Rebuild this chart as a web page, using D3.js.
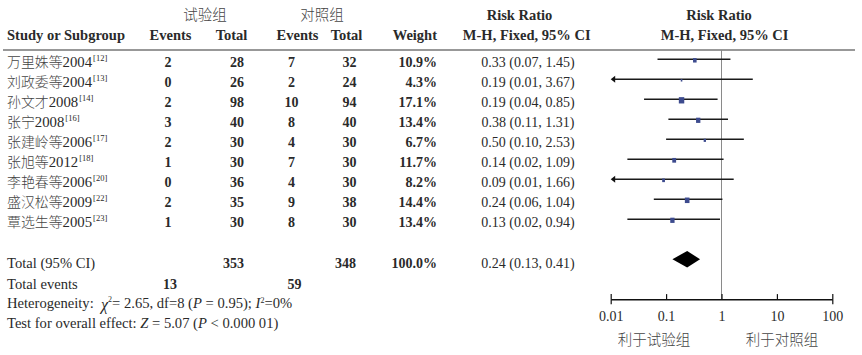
<!DOCTYPE html>
<html><head><meta charset="utf-8">
<script src="https://cdn.jsdelivr.net/npm/d3@7"></script>
<style>
html,body{margin:0;padding:0;background:#fff;}
svg{display:block;}
text{font-family:"Liberation Serif","Noto Sans CJK SC",serif;fill:#2a2a2a;white-space:pre;}
.cjk{font-family:"Noto Sans CJK SC",sans-serif;font-weight:300;fill:#444;}
</style></head>
<body>
<script>
// ---- data ----
const studies   = ["万里姝等","刘政委等","孙文才","张宁","张建岭等","张旭等","李艳春等","盛汉松等","覃选生等"];
const years     = ["2004","2004","2008","2008","2006","2012","2006","2009","2005"];
const refs      = ["[12]","[13]","[14]","[16]","[17]","[18]","[20]","[22]","[23]"];
const expEvents = [2,0,2,3,2,1,0,2,1];
const expTotal  = [28,26,98,40,30,30,36,35,30];
const ctlEvents = [7,2,10,8,4,7,4,9,8];
const ctlTotal  = [32,24,94,40,30,30,30,38,30];
const weights   = [10.9,4.3,17.1,13.4,6.7,11.7,8.2,14.4,13.4];
const rr        = [0.33,0.19,0.19,0.38,0.50,0.14,0.09,0.24,0.13];
const ciLow     = [0.07,0.01,0.04,0.11,0.10,0.02,0.01,0.06,0.02];
const ciHigh    = [1.45,3.67,0.85,1.31,2.53,1.09,1.66,1.04,0.94];
const totalExp = 353, totalCtl = 348, totalWeight = 100.0;
const totalRR = 0.24, totalLow = 0.13, totalHigh = 0.41;
const totalExpEvents = 13, totalCtlEvents = 59;
const axisTicks = [0.01,0.1,1,10,100];
const axisTickLabels = ["0.01","0.1","1","10","100"];
const favourLabels = ["利于试验组","利于对照组"];

// ---- layout ----
const W = 862, H = 355;
const svg = d3.select("body").append("svg").attr("width",W).attr("height",H);
const x = d3.scaleLog().domain([0.01,100]).range([610.7,832.3]);
const y = d3.scaleLinear().domain([0,1]).range([59.3,79.3]);
const f2 = d3.format(".2f"), f1 = d3.format(".1f");
const FS = 14, HFS = 14.5, LFS = 14.6;

function txt(xp, yp, s, opt={}) {
  const t = svg.append("text").attr("x",xp).attr("y",yp).text(s)
    .attr("font-size", opt.size||FS)
    .attr("text-anchor", opt.anchor||"start")
    .attr("font-weight", opt.bold?"bold":"normal");
  if (opt.cls) t.attr("class",opt.cls);
  return t;
}

// headers
txt(205,20,"试验组",{anchor:"middle",size:14.5,cls:"cjk"});
txt(322,20,"对照组",{anchor:"middle",size:14.5,cls:"cjk"});
txt(519.5,20,"Risk Ratio",{anchor:"middle",bold:true,size:HFS});
txt(719,20,"Risk Ratio",{anchor:"middle",bold:true,size:HFS});
txt(7,39.5,"Study or Subgroup",{bold:true,size:HFS});
txt(170.5,39.5,"Events",{anchor:"middle",bold:true,size:HFS});
txt(231.5,39.5,"Total",{anchor:"middle",bold:true,size:HFS});
txt(297.5,39.5,"Events",{anchor:"middle",bold:true,size:HFS});
txt(346.5,39.5,"Total",{anchor:"middle",bold:true,size:HFS});
txt(437,39.5,"Weight",{anchor:"end",bold:true,size:HFS});
txt(526.7,39.5,"M-H, Fixed, 95% CI",{anchor:"middle",bold:true,size:HFS});
txt(724.6,39.5,"M-H, Fixed, 95% CI",{anchor:"middle",bold:true,size:HFS});

svg.append("line").attr("x1",3).attr("x2",855).attr("y1",50).attr("y2",50)
  .attr("stroke","#333").attr("stroke-width",1.2);

// reference line
svg.append("line").attr("x1",x(1)).attr("x2",x(1)).attr("y1",50).attr("y2",299.3)
  .attr("stroke","#8a8a8a").attr("stroke-width",1);

// rows
const CJKW = 13.9;
studies.forEach((s,i)=>{
  const yb = y(i)+7.2;
  const n = s.length;
  txt(7,yb,s,{cls:"cjk",size:14}).attr("textLength",CJKW*n).attr("lengthAdjust","spacingAndGlyphs");
  const x1 = 7 + CJKW*n;
  txt(x1,yb,years[i],{size:14.5}).attr("textLength",29.5).attr("lengthAdjust","spacingAndGlyphs");
  txt(x1+30.5,yb-5.5,refs[i],{size:8.5});
  txt(168,yb,expEvents[i],{anchor:"middle",bold:true});
  txt(244,yb,expTotal[i],{anchor:"end",bold:true});
  txt(291.5,yb,ctlEvents[i],{anchor:"middle",bold:true});
  txt(356.5,yb,ctlTotal[i],{anchor:"end",bold:true});
  txt(437,yb,f1(weights[i])+"%",{anchor:"end",bold:true});
  txt(528,yb,`${f2(rr[i])} (${f2(ciLow[i])}, ${f2(ciHigh[i])})`,{anchor:"middle"});
});

// forest plot CIs
const g = svg.append("g");
g.selectAll("line.ci").data(studies).join("line").attr("class","ci")
  .attr("x1",(d,i)=>x(ciLow[i])+(ciLow[i]<=0.01?2:0)).attr("x2",(d,i)=>x(ciHigh[i]))
  .attr("y1",(d,i)=>y(i)).attr("y2",(d,i)=>y(i))
  .attr("stroke","#1a1a1a").attr("stroke-width",1.4);
// arrows for truncated CIs
g.selectAll("path.arrow").data(studies.map((d,i)=>i).filter(i=>ciLow[i]<=0.01)).join("path")
  .attr("class","arrow")
  .attr("d",i=>{const x0=x(0.01), y0=y(i); return `M${x0},${y0}L${x0+4.5},${y0-3.5}L${x0+4.5},${y0+3.5}Z`;})
  .attr("fill","#111");
// squares
g.selectAll("rect.sq").data(studies).join("rect").attr("class","sq")
  .attr("width",(d,i)=>0.3*weights[i]+0.3)
  .attr("height",(d,i)=>0.3*weights[i]+1.2)
  .attr("x",(d,i)=>x(rr[i])-(0.3*weights[i]+0.3)/2)
  .attr("y",(d,i)=>y(i)-(0.3*weights[i]+1.2)/2+1)
  .attr("fill","#3d4b8e");

// totals
txt(7,267.5,"Total (95% CI)",{size:LFS});
txt(244,267.5,totalExp,{anchor:"end",bold:true});
txt(356,267.5,totalCtl,{anchor:"end",bold:true});
txt(437,267.5,f1(totalWeight)+"%",{anchor:"end",bold:true});
txt(528,267.5,`${f2(totalRR)} (${f2(totalLow)}, ${f2(totalHigh)})`,{anchor:"middle"});
const dy0 = 259.2, dh = 8.2;
svg.append("path")
  .attr("d",`M${x(totalLow)},${dy0}L${x(totalRR)},${dy0-dh}L${x(totalHigh)},${dy0}L${x(totalRR)},${dy0+dh}Z`)
  .attr("fill","#000");

txt(7,289.3,"Total events",{size:LFS});
txt(170,289.3,totalExpEvents,{anchor:"middle",bold:true});
txt(294.5,289.3,totalCtlEvents,{anchor:"middle",bold:true});

// heterogeneity
const het = svg.append("text").attr("x",7).attr("y",308.3).attr("font-size",LFS);
het.append("tspan").text("Heterogeneity:  ");
het.append("tspan").text("χ").attr("font-style","italic").attr("dy",2).attr("font-size",16);
het.append("tspan").text("2").attr("font-size",8).attr("dy",-8);
het.append("tspan").text("= 2.65, df=8 (").attr("dy",6);
het.append("tspan").text("P").attr("font-style","italic");
het.append("tspan").text(" = 0.95); ");
het.append("tspan").text("I").attr("font-style","italic");
het.append("tspan").text("2").attr("font-size",8).attr("dy",-5.5);
het.append("tspan").text("=0%").attr("dy",5.5);

const te = svg.append("text").attr("x",7).attr("y",327.7).attr("font-size",LFS);
te.append("tspan").text("Test for overall effect: ");
te.append("tspan").text("Z").attr("font-style","italic");
te.append("tspan").text(" = 5.07 (");
te.append("tspan").text("P").attr("font-style","italic");
te.append("tspan").text(" < 0.000 01)");

// axis
const axis = d3.axisBottom(x).tickValues(axisTicks)
  .tickFormat((d,i)=>axisTickLabels[i]).tickSizeInner(-5.2).tickSizeOuter(0).tickPadding(11.5);
const ag = svg.append("g").attr("transform","translate(0,299.3)").call(axis);
ag.select(".domain").attr("stroke","#111").attr("stroke-width",1.4);
ag.selectAll(".tick line").attr("stroke","#111").attr("stroke-width",1.2);
ag.selectAll(".tick text").attr("font-family",'"Liberation Serif",serif').attr("font-size",FS).attr("fill","#2a2a2a");
// end ticks extend below
ag.selectAll(".tick").filter(d=>d===0.01||d===100).append("line")
  .attr("y1",0).attr("y2",5).attr("stroke","#111").attr("stroke-width",1.2);

txt(654,345,favourLabels[0],{anchor:"middle",size:14.5,cls:"cjk"});
txt(782,345,favourLabels[1],{anchor:"middle",size:14.5,cls:"cjk"});
</script>
</body></html>
